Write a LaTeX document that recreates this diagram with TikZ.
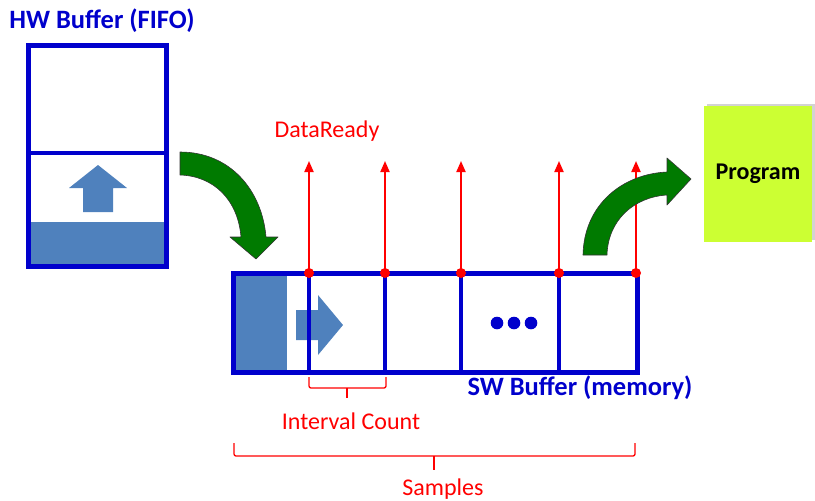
\documentclass[tikz,border=0pt]{standalone}
\usepackage{fontspec}
\setmainfont{Carlito}
\usetikzlibrary{arrows.meta,shadows}
\definecolor{bufblue}{RGB}{0,0,204}
\definecolor{fillblue}{RGB}{79,129,189}
\definecolor{arrgreen}{RGB}{0,122,0}
\definecolor{progyellow}{RGB}{204,255,51}
\definecolor{sigred}{RGB}{255,0,0}
\tikzset{
  buf/.style={draw=bufblue,line width=5pt},
  divider/.style={draw=bufblue,line width=4pt},
  bluefill/.style={fill=fillblue,draw=none},
  greenarrow/.style={fill=arrgreen,draw=black!80,line width=0.6pt,line join=round},
  readyline/.style={draw=sigred,line width=2pt,-{Triangle[length=11pt,width=9pt]}},
  readydot/.style={circle,fill=sigred,inner sep=0pt,minimum size=10pt},
  brace/.style={draw=sigred,line width=1.3pt,rounded corners=2pt},
  bluelabel/.style={text=bufblue,font=\bfseries\fontsize{26.5}{28}\selectfont},
  redlabel/.style={text=sigred,font=\fontsize{24}{26}\selectfont}
}
\begin{document}
\begin{tikzpicture}[x=1pt,y=-1pt]
\useasboundingbox (0,0) rectangle (815,501);

% ---------- hardware FIFO ----------
\node[bluelabel] (hwtitle) at (102,21) {HW Buffer (FIFO)};
\fill[fillblue] (28,222) rectangle (166,266);
\fill[fillblue] (98,165) -- (127,188) -- (113,188) -- (113,212) -- (83,212) -- (83,188) -- (69,188) -- cycle;
\draw[divider] (28,153) -- (166,153);
\draw[buf] (28,45) rectangle (166,266);

% ---------- transfer arrow into memory ----------
\path[greenarrow] (180,152) -- (180,175)
  .. controls (214,176) and (238,200) .. (241,237) -- (230,237) -- (256,259) -- (278,237) -- (266,237)
  .. controls (262,190) and (230,152) .. (180,152) -- cycle;

% ---------- software buffer ----------
\fill[fillblue] (235,275) rectangle (287,370);
\fill[fillblue] (296,310) -- (318,310) -- (318,295) -- (343,325) -- (318,355) -- (318,340) -- (296,340) -- cycle;
\foreach \x in {309,385,461,559} \draw[divider] (\x,273) -- (\x,372);
\draw[buf] (233,273) rectangle (637,372);
\foreach \x in {497,514,531} \fill[bufblue] (\x,323) circle (6.3pt);

% ---------- DataReady events ----------
\node[redlabel] (ready) at (327,131) {DataReady};
\foreach \x [count=\i] in {309,385,461,559,636} {
  \node[readydot] (d\i) at (\x,273) {};
  \coordinate (t\i) at (\x,161);
  \draw[readyline] (d\i.center) -- (t\i);
}

% ---------- program ----------
\path[greenarrow] (583,255)
  .. controls (584,205) and (622,174) .. (667,172) -- (667,158) -- (691,179) -- (667,205) -- (667,195)
  .. controls (634,197) and (608,220) .. (607,255) -- cycle;
\node[fill=progyellow,minimum width=108pt,minimum height=136pt,inner sep=0pt,
      drop shadow={shadow xshift=2.5pt,shadow yshift=2.5pt,opacity=0.35},
      font=\bfseries\fontsize{24}{26}\selectfont] (prog) at (758,174) {Program};

% ---------- labels and braces ----------
\node[bluelabel] (swtitle) at (580,388) {SW Buffer (memory)};
\draw[brace] (309,377) -- (309,388) -- (386,388) -- (386,377);
\draw[brace] (347,388) -- (347,398);
\node[redlabel] (interval) at (351,421) {Interval Count};
\draw[brace] (234,443) -- (234,456) -- (635,456) -- (635,443);
\draw[brace] (434,456) -- (434,470);
\node[redlabel] (samples) at (443,489) {Samples};
\end{tikzpicture}
\end{document}
